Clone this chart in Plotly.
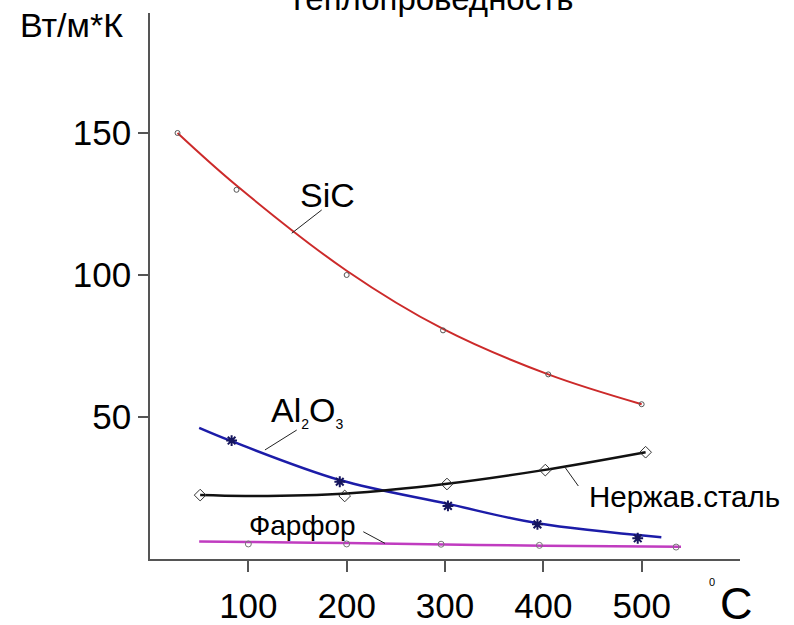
import plotly.graph_objects as go

# ---- data ----
sic_x = [28, 88, 200, 298, 405, 500]
sic_y = [150, 130, 100, 80.5, 65, 54.5]
sic_curve_x = [28, 88, 200, 298, 405, 500]
sic_curve_y = [150, 131.5, 101.5, 81, 65, 54.5]

al_x = [83, 193, 303, 394, 496]
al_y = [41.7, 27.2, 18.7, 12.2, 7.3]
al_curve_x = [50, 83, 193, 303, 394, 520]
al_curve_y = [46.2, 41.5, 27.8, 19.4, 12.6, 7.7]

st_x = [51, 198, 302, 402, 504]
st_y = [22.5, 22.2, 26.4, 31.3, 37.6]
st_curve_x = [51, 100, 200, 300, 400, 504]
st_curve_y = [22.5, 22.2, 23.1, 26.4, 31.3, 37.6]

pf_x = [100, 200, 296, 396, 535]
pf_y = [5.3, 5.3, 5.2, 4.8, 4.2]
pf_curve_x = [50, 100, 200, 300, 400, 540]
pf_curve_y = [6.2, 6.0, 5.6, 5.1, 4.7, 4.3]

x_ticks = [100, 200, 300, 400, 500]
y_ticks = [50, 100, 150]

RED = "#cc2a2a"
BLUE = "#1c1ca8"
BLACK = "#111111"
MAG = "#c03cc0"
FONT = "Liberation Sans, Arial, sans-serif"

fig = go.Figure()

def curve(x, y, color, w):
    fig.add_trace(go.Scatter(x=x, y=y, mode="lines", line=dict(color=color, width=w, shape="spline", smoothing=1.0),
                             hoverinfo="skip", showlegend=False))

def marks(x, y, symbol, size, color, lw=1):
    fig.add_trace(go.Scatter(x=x, y=y, mode="markers",
                             marker=dict(symbol=symbol, size=size, color=color, line=dict(color=color, width=lw)),
                             showlegend=False))

curve(sic_curve_x, sic_curve_y, RED, 2)
curve(al_curve_x, al_curve_y, BLUE, 2.5)
curve(st_curve_x, st_curve_y, BLACK, 2.5)
curve(pf_curve_x, pf_curve_y, MAG, 2.5)

marks(sic_x, sic_y, "circle-open", 5, "#555555", 1)
marks(al_x, al_y, "asterisk-open", 9, "#15155e", 2)
marks(st_x, st_y, "diamond-open", 9, "#333333", 1)
marks(pf_x, pf_y, "circle-open", 6, "#777777", 1)

# leader lines
leaders = [
    (174.6, 122.9, 144.1, 114.7),
    (149.2, 45.4, 116.9, 38.4),
    (216.9, 9.6, 239.0, 5.5),
    (422.0, 32.3, 435.6, 25.7),
]
for x0, y0, x1, y1 in leaders:
    fig.add_shape(type="line", x0=x0, y0=y0, x1=x1, y1=y1, xref="x", yref="y",
                  line=dict(color="#222222", width=1))

ann = [
    dict(x=180, y=128.2, text="SiC", size=34),
    dict(x=159.7, y=51.9, text="Al<sub><span style='font-size:14px'>2</span></sub>O<sub><span style='font-size:14px'>3</span></sub>", size=34),
    dict(x=155, y=11.7, text="Фарфор", size=28),
    dict(x=544, y=21.9, text="Нержав.сталь", size=29.5),
]
for a in ann:
    fig.add_annotation(x=a["x"], y=a["y"], xref="x", yref="y", text=a["text"], showarrow=False,
                       xanchor="center", yanchor="middle",
                       font=dict(family=FONT, size=a["size"], color="black"))

# axis title texts
def paper_text(px, py, text, size, yanchor="middle"):
    fig.add_annotation(x=(px - 150) / 590, y=(559 - py) / 546, xref="paper", yref="paper",
                       xanchor="center", yanchor=yanchor, text=text, showarrow=False,
                       font=dict(family=FONT, size=size, color="black"))

paper_text(71, 25, "Вт/м*К", 34)
paper_text(712, 582, "0", 11)
paper_text(736, 603, "C", 45)
paper_text(430, 19, "Теплопроведность", 33, yanchor="bottom")

fig.update_layout(
    width=794, height=625,
    margin=dict(l=150, r=54, t=13, b=66, autoexpand=False),
    paper_bgcolor="white", plot_bgcolor="white",
    showlegend=False,
    xaxis=dict(range=[0, 600], tickvals=x_ticks, ticktext=[str(v) for v in x_ticks],
               automargin=False,
               showgrid=False, zeroline=False, showline=True, linecolor="#555555", linewidth=1.5,
               ticks="outside", ticklen=11, tickwidth=1.5, tickcolor="#555555",
               ticklabelstandoff=4,
               tickfont=dict(family=FONT, size=35, color="black")),
    yaxis=dict(range=[0, 192.25], tickvals=y_ticks, ticktext=[str(v) for v in y_ticks],
               automargin=False,
               showgrid=False, zeroline=False, showline=True, linecolor="#555555", linewidth=1.5,
               ticks="outside", ticklen=10, tickwidth=1.5, tickcolor="#555555",
               tickfont=dict(family=FONT, size=35, color="black")),
)

fig.write_html("out.html")
